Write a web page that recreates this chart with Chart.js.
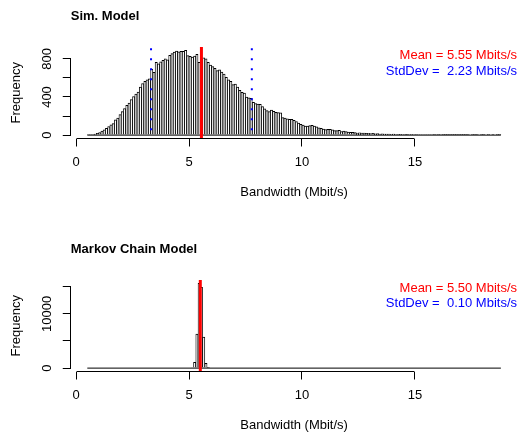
<!DOCTYPE html>
<html>
<head>
<meta charset="utf-8">
<script src="https://cdn.jsdelivr.net/npm/chart.js@4.4.1/dist/chart.umd.min.js"></script>
<style>
  html, body { margin: 0; padding: 0; background: #fff; overflow: hidden; }
  body { width: 519px; height: 432px; position: relative; }
  canvas { position: absolute; left: 0; }
</style>
</head>
<body>
<canvas id="sim" width="519" height="216" style="top:0"></canvas>
<canvas id="markov" width="519" height="216" style="top:233px"></canvas>
<script>
// histogram bins: width 0.1 starting at 0.5 Mbit/s
const binStart = 0.5;
const binWidth = 0.1;

// Sim. Model counts, one per bin (0.5-0.6, 0.6-0.7, ... 18.7-18.8)
const simCounts = [
  3, 5, 8, 12, 18, 26, 42, 55, 72, 90,
  108, 122, 160, 178, 215, 248, 278, 312, 335, 372,
  405, 430, 452, 505, 540, 565, 580, 590, 694, 660,
  765, 748, 770, 785, 800, 790, 838, 855, 872, 882,
  874, 880, 880, 889, 835, 826, 818, 830, 848, 765,
  795, 811, 800, 765, 735, 720, 700, 676, 684, 662,
  640, 607, 580, 565, 530, 536, 505, 470, 450, 440,
  398, 390, 385, 345, 330, 326, 324, 300, 275, 258,
  248, 262, 250, 240, 236, 234, 185, 178, 170, 166,
  166, 155, 142, 125, 112, 105, 95, 96, 100, 102,
  94, 86, 76, 70, 64, 58, 60, 60, 56, 47,
  48, 50, 37, 43, 38, 32, 28, 30, 27, 22,
  25, 21, 22, 18, 20, 16, 18, 14, 15, 12,
  14, 11, 12, 10, 9, 11, 8, 9, 7, 8,
  6, 7, 5, 6, 5, 6, 4, 5, 4, 3,
  4, 3, 4, 2, 3, 2, 3, 2, 2, 1,
  2, 2, 1, 2, 1, 1, 2, 1, 1, 0,
  1, 1, 1, 0, 1, 1, 0, 1, 0, 1,
  0, 1, 1
];

// Markov Chain Model: only these bins are non-empty (bin midpoints)
const markovBins = [5.15, 5.25, 5.35, 5.45, 5.55, 5.65, 5.75, 5.85];
const markovCounts = [120, 1070, 6280, 15600, 14880, 5730, 900, 30];

const xTicks = [0, 5, 10, 15];
const simYTicks = [0, 200, 400, 600, 800];
const simYLabels = [0, 400, 800];
const markovYTicks = [0, 5000, 10000, 15000];
const markovYLabels = [0, 10000];

const simStats = { mean: 5.55, sd: 2.23 };
const markovStats = { mean: 5.50, sd: 0.10 };

const FONT = '"Liberation Sans", Arial, Helvetica, sans-serif';
Chart.defaults.font.family = FONT;
Chart.defaults.font.size = 13;
Chart.defaults.color = '#000';

const binEnd = +(binStart + binWidth * simCounts.length).toFixed(2);
const simBins = simCounts.map((_, i) => +(binStart + binWidth * (i + 0.5)).toFixed(2));

const measureCtx = document.createElement('canvas').getContext('2d');
measureCtx.font = '13px ' + FONT;

const overlay = {
  id: 'overlay',
  afterDatasetsDraw(chart, args, o) {
    const { ctx, chartArea: a, scales: { x } } = chart;
    ctx.save();
    if (o.sdLines) {
      ctx.strokeStyle = '#0000ff';
      ctx.lineWidth = 2;
      ctx.setLineDash([2, 8]);
      ctx.lineDashOffset = -1.3;
      for (const v of [o.mean - o.sd, o.mean + o.sd]) {
        const px = x.getPixelForValue(v);
        ctx.beginPath();
        ctx.moveTo(px, a.top);
        ctx.lineTo(px, a.bottom);
        ctx.stroke();
      }
      ctx.setLineDash([]);
    }
    ctx.strokeStyle = '#ff0000';
    ctx.lineWidth = 3;
    const mx = x.getPixelForValue(o.mean);
    ctx.beginPath();
    ctx.moveTo(mx, a.top);
    ctx.lineTo(mx, a.bottom);
    ctx.stroke();
    ctx.restore();
  },
  afterDraw(chart, args, o) {
    const { ctx, chartArea: a, scales: { x, y } } = chart;
    const align = p => Math.round(p - 0.5) + 0.5;
    ctx.save();
    ctx.strokeStyle = '#000';
    ctx.lineWidth = 1;
    // R style axes only span first..last tick
    const by = align(a.bottom);
    ctx.beginPath();
    ctx.moveTo(align(x.getPixelForValue(xTicks[0])), by);
    ctx.lineTo(align(x.getPixelForValue(xTicks[xTicks.length - 1])), by);
    ctx.stroke();
    const lx = align(a.left);
    ctx.beginPath();
    ctx.moveTo(lx, align(y.getPixelForValue(o.yTicks[0])));
    ctx.lineTo(lx, align(y.getPixelForValue(o.yTicks[o.yTicks.length - 1])));
    ctx.stroke();

    ctx.font = '13px ' + FONT;
    ctx.textAlign = 'right';
    ctx.textBaseline = 'middle';
    ctx.fillStyle = '#ff0000';
    ctx.fillText('Mean = ' + o.mean.toFixed(2) + ' Mbits/s', 517, o.legendY[0]);
    ctx.fillStyle = '#0000ff';
    ctx.fillText('StdDev =  ' + o.sd.toFixed(2) + ' Mbits/s', 517, o.legendY[1]);
    ctx.restore();
  }
};

function histChart(id, cfg) {
  const top = Math.max(...cfg.counts);
  const xPad = (binEnd - binStart) * 0.04;
  const widest = Math.max(...cfg.yLabels.map(l => measureCtx.measureText(String(l)).width));
  const yAxisWidth = 70.76;
  const tickLen = 8;

  return new Chart(document.getElementById(id), {
    type: 'bar',
    data: {
      datasets: [
        {
          type: 'line',
          data: [{ x: binStart, y: 0 }, { x: binEnd, y: 0 }],
          borderColor: '#000',
          borderWidth: 1,
          pointRadius: 0,
          order: 0
        },
        {
          type: 'bar',
          data: cfg.bins.map((b, i) => ({ x: b, y: cfg.counts[i] })),
          backgroundColor: '#fff',
          borderColor: '#000',
          borderWidth: { top: 1, left: 0.85, right: 0.85, bottom: 0 },
          borderSkipped: false,
          barPercentage: 1,
          categoryPercentage: 1,
          order: 1
        }
      ]
    },
    options: {
      responsive: false,
      animation: false,
      devicePixelRatio: 1,
      layout: { padding: { left: 0, right: 519 - 517.42, top: 0, bottom: 0 } },
      scales: {
        x: {
          type: 'linear',
          min: binStart - xPad,
          max: binEnd + xPad,
          offset: false,
          afterBuildTicks: s => { s.ticks = xTicks.map(v => ({ value: v })); },
          afterFit: s => { s.height = 216 - 138.5; },
          grid: { drawOnChartArea: false, drawTicks: true, tickLength: tickLen, color: '#000', lineWidth: 1, offset: false },
          border: { display: false },
          ticks: { padding: 7.7, autoSkip: false, minRotation: 0, maxRotation: 0, color: '#000', callback: v => String(v) },
          title: { display: true, text: 'Bandwidth (Mbit/s)', color: '#000', padding: { top: 0, bottom: 15.5 } }
        },
        y: {
          type: 'linear',
          min: -top * 0.04,
          max: top * 1.04,
          afterBuildTicks: s => { s.ticks = cfg.yTicks.map(v => ({ value: v })); },
          afterFit: s => { s.width = yAxisWidth; },
          grid: { drawOnChartArea: false, drawTicks: true, tickLength: tickLen, color: '#000', lineWidth: 1 },
          border: { display: false },
          ticks: {
            padding: yAxisWidth - tickLen - 47.8 - widest / 2,
            autoSkip: false,
            minRotation: 90,
            maxRotation: 90,
            crossAlign: 'center',
            color: '#000',
            callback: v => cfg.yLabels.includes(v) ? String(v) : ''
          },
          title: { display: true, text: 'Frequency', color: '#000', padding: { top: 8.5, bottom: 0 } }
        }
      },
      plugins: {
        legend: { display: false },
        tooltip: { enabled: false },
        title: {
          display: true,
          text: cfg.title,
          align: 'start',
          fullSize: false,
          color: '#000',
          font: { size: 13, weight: 'bold' },
          padding: { top: 9, bottom: 22.4 }
        },
        overlay: {
          mean: cfg.stats.mean,
          sd: cfg.stats.sd,
          sdLines: cfg.sdLines,
          yTicks: cfg.yTicks,
          legendY: cfg.legendY
        }
      }
    },
    plugins: [overlay]
  });
}

histChart('sim', {
  title: 'Sim. Model',
  bins: simBins,
  counts: simCounts,
  yTicks: simYTicks,
  yLabels: simYLabels,
  stats: simStats,
  sdLines: true,
  legendY: [55.5, 71.5]
});

histChart('markov', {
  title: 'Markov Chain Model',
  bins: markovBins,
  counts: markovCounts,
  yTicks: markovYTicks,
  yLabels: markovYLabels,
  stats: markovStats,
  sdLines: false,
  legendY: [55.5, 70]
});
</script>
</body>
</html>
